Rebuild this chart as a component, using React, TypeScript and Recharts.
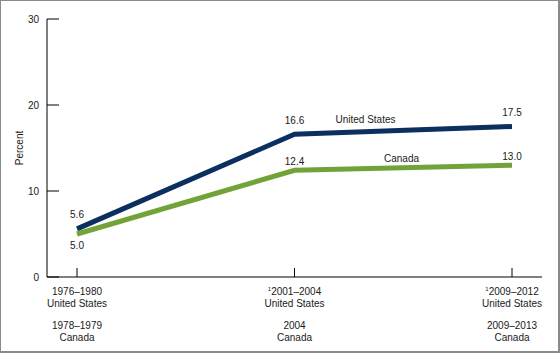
import React from 'react';
import { LineChart, Line, XAxis, YAxis, LabelList } from 'recharts';

const categories = ['p1', 'p2', 'p3'];
const usPeriods = ['1976–1980', '2001–2004', '2009–2012'];
const usFootnotes = ['', '1', '1'];
const canadaPeriods = ['1978–1979', '2004', '2009–2013'];
const unitedStates = [5.6, 16.6, 17.5];
const canada = [5.0, 12.4, 13.0];
const yTicks = [0, 10, 20, 30];
const seriesNames = { us: 'United States', ca: 'Canada' };

const data = categories.map((c, i) => ({ cat: c, idx: i, us: unitedStates[i], ca: canada[i] }));

const FONT = '"Liberation Sans", Arial, sans-serif';
const US_COLOR = '#0b2f5f';
const CA_COLOR = '#72a338';
const TEXT = '#1a1a1a';

const XTick = (props: any) => {
  const { x, y, payload } = props;
  const i = categories.indexOf(payload.value);
  return (
    <g>
      <line x1={x} y1={y} x2={x} y2={y - 9} stroke="#000" strokeWidth={1} />
      <text x={x} y={y + 18} textAnchor="middle" fontSize={10} fontFamily={FONT} fill={TEXT}>
        {usFootnotes[i] ? <tspan fontSize={6} dy={-4}>{usFootnotes[i]}</tspan> : null}
        {usFootnotes[i] ? <tspan dy={4}>{usPeriods[i]}</tspan> : usPeriods[i]}
      </text>
      <text x={x} y={y + 30} textAnchor="middle" fontSize={10} fontFamily={FONT} fill={TEXT}>United States</text>
      <text x={x} y={y + 52} textAnchor="middle" fontSize={10} fontFamily={FONT} fill={TEXT}>{canadaPeriods[i]}</text>
      <text x={x} y={y + 64} textAnchor="middle" fontSize={10} fontFamily={FONT} fill={TEXT}>Canada</text>
    </g>
  );
};

const YTick = (props: any) => {
  const { x, y, payload } = props;
  return (
    <g>
      <line x1={x} y1={y} x2={x + 12} y2={y} stroke="#000" strokeWidth={1} />
      <text x={x - 8} y={y + 3.5} textAnchor="end" fontSize={10} fontFamily={FONT} fill={TEXT}>{payload.value}</text>
    </g>
  );
};

const getXY = (p: any) => ({
  px: p.x ?? p.viewBox?.x,
  py: p.y ?? p.viewBox?.y,
});

const USLabel = (p: any) => {
  const { px, py } = getXY(p);
  const { value, index } = p;
  return (
    <g>
      <text x={px} y={py - 10.5} textAnchor="middle" fontSize={10} fontFamily={FONT} fill={TEXT}>{Number(value).toFixed(1)}</text>
      {index === 1 ? (
        <text x={px + 71} y={py - 11.5} textAnchor="middle" fontSize={10} fontFamily={FONT} fill={TEXT}>{seriesNames.us}</text>
      ) : null}
    </g>
  );
};

const CALabel = (p: any) => {
  const { px, py } = getXY(p);
  const { value, index } = p;
  const ly = index === 0 ? py + 14.5 : py - 5.5;
  return (
    <g>
      <text x={px} y={ly} textAnchor="middle" fontSize={10} fontFamily={FONT} fill={TEXT}>{Number(value).toFixed(1)}</text>
      {index === 1 ? (
        <text x={px + 107} y={py - 8} textAnchor="middle" fontSize={10} fontFamily={FONT} fill={TEXT}>{seriesNames.ca}</text>
      ) : null}
    </g>
  );
};

const PercentLabel = (p: any) => {
  const vb = p.viewBox || { x: 0, y: 19, width: 47, height: 258 };
  const cx = vb.x + 19;
  const cy = vb.y + vb.height / 2;
  return (
    <text x={cx} y={cy} dy={3.5} textAnchor="middle" fontSize={10} fontFamily={FONT} fill={TEXT} transform={`rotate(-90, ${cx}, ${cy})`}>
      Percent
    </text>
  );
};

export default function App() {
  return (
    <div style={{ position: 'absolute', left: 0, top: 0, width: 560, height: 353, background: '#fff' }}>
      <LineChart width={560} height={353} data={data} margin={{ top: 19, right: 18, left: 0, bottom: 0 }}>
        <XAxis
          dataKey="cat"
          type="category"
          padding={{ left: 30, right: 30 }}
          height={76}
          tickSize={0}
          tickMargin={0}
          tickLine={false}
          interval={0}
          axisLine={{ stroke: '#000', strokeWidth: 1 }}
          tick={<XTick />}
        />
        <YAxis
          type="number"
          domain={[0, 30]}
          ticks={yTicks}
          width={47}
          tickSize={0}
          tickMargin={0}
          tickLine={false}
          axisLine={{ stroke: '#000', strokeWidth: 1 }}
          tick={<YTick />}
          label={{ content: <PercentLabel /> } as any}
        />
        <Line type="linear" dataKey="us" stroke={US_COLOR} strokeWidth={5} dot={false} isAnimationActive={false}>
          <LabelList dataKey="us" content={<USLabel />} />
        </Line>
        <Line type="linear" dataKey="ca" stroke={CA_COLOR} strokeWidth={5} dot={false} isAnimationActive={false}>
          <LabelList dataKey="ca" content={<CALabel />} />
        </Line>
      </LineChart>
      <div
        style={{
          position: 'absolute',
          left: 0,
          top: 0,
          width: 560,
          height: 353,
          boxSizing: 'border-box',
          borderTop: '1px solid #8a8a8a',
          borderLeft: '1px solid #8a8a8a',
          borderRight: '2px solid #8a8a8a',
          borderBottom: '2px solid #8a8a8a',
          pointerEvents: 'none',
        }}
      />
    </div>
  );
}
